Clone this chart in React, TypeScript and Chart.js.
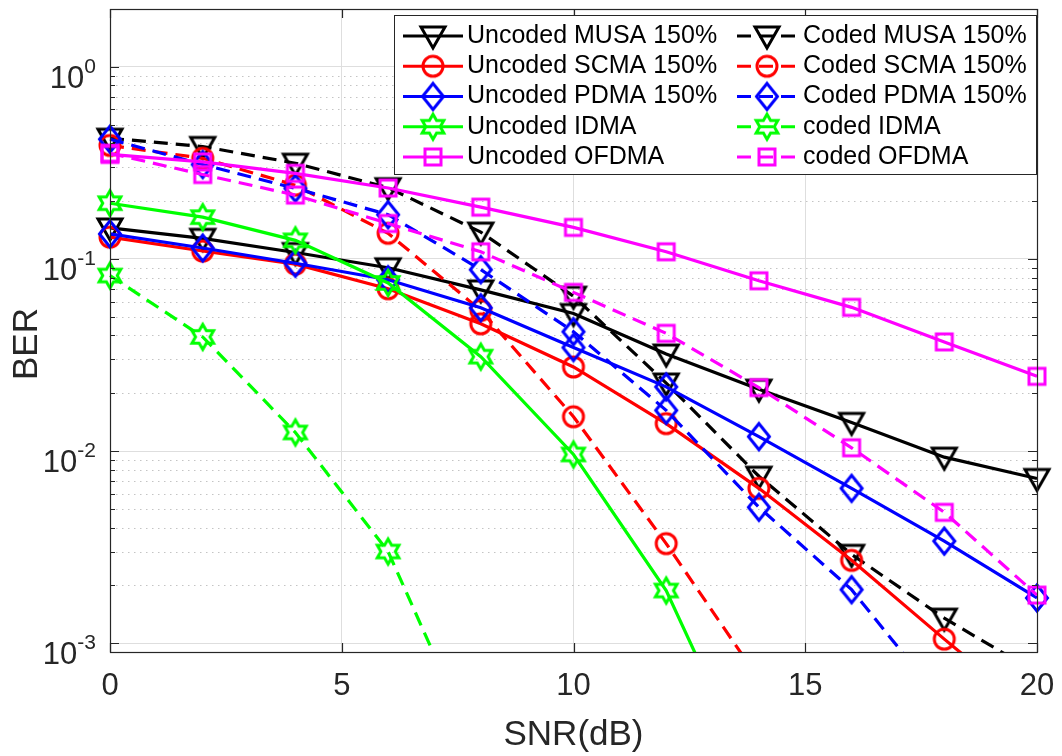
import React, { useEffect, useRef } from 'react';
import { Chart, registerables } from 'chart.js';

Chart.register(...registerables);

// ---------- data ----------
const snr = [0, 2, 4, 6, 8, 10, 12, 14, 16, 18, 20];
const xTicks = [0, 5, 10, 15, 20];
const yDecades = [-3, -2, -1, 0];

const uncodedMUSA = [0.145, 0.128, 0.108, 0.09, 0.069, 0.052, 0.032, 0.021, 0.0141, 0.0093, 0.0072];
const codedMUSA = [0.425, 0.385, 0.315, 0.235, 0.138, 0.064, 0.0226, 0.0074, 0.0029, 0.00135, 0.0007];
const uncodedSCMA = [0.13, 0.11, 0.094, 0.07, 0.046, 0.0274, 0.0139, 0.0064, 0.0027, 0.00105, 0.00042];
const codedSCMA = [0.39, 0.334, 0.242, 0.136, 0.054, 0.0151, 0.0033, 0.00065];
const uncodedPDMA = [0.135, 0.114, 0.095, 0.078, 0.0557, 0.0346, 0.0216, 0.0119, 0.0064, 0.0034, 0.00172];
const codedPDMA = [0.42, 0.31, 0.233, 0.17, 0.088, 0.0418, 0.0163, 0.0051, 0.0019, 0.00048];
const uncodedIDMA = [0.195, 0.165, 0.125, 0.075, 0.031, 0.0096, 0.00188, 0.00017];
const codedIDMA = [0.082, 0.0393, 0.0125, 0.003, 0.00025];
const uncodedOFDMA = [0.35, 0.32, 0.279, 0.234, 0.186, 0.146, 0.109, 0.077, 0.056, 0.037, 0.0245];
const codedOFDMA = [0.355, 0.275, 0.215, 0.153, 0.109, 0.067, 0.041, 0.0214, 0.0104, 0.0048, 0.00178];

const labels = [
  'Uncoded MUSA 150%', 'Coded MUSA 150%',
  'Uncoded SCMA 150%', 'Coded SCMA 150%',
  'Uncoded PDMA 150%', 'Coded PDMA 150%',
  'Uncoded IDMA', 'coded IDMA',
  'Uncoded OFDMA', 'coded OFDMA',
];
const seriesData = [
  uncodedMUSA, codedMUSA, uncodedSCMA, codedSCMA, uncodedPDMA,
  codedPDMA, uncodedIDMA, codedIDMA, uncodedOFDMA, codedOFDMA,
];
const colors = ['#000000', '#000000', '#ff0000', '#ff0000', '#0000ff', '#0000ff', '#00ff00', '#00ff00', '#ff00ff', '#ff00ff'];
const markers = ['tri', 'tri', 'circle', 'circle', 'diamond', 'diamond', 'hexagram', 'hexagram', 'square', 'square'];
const dashed = [false, true, false, true, false, true, false, true, false, true];

const FONT = '"Liberation Sans", Arial, Helvetica, sans-serif';
const AXIS_COLOR = '#262626';
const DASH = [14, 8];

function makeMarker(shape: string, color: string): HTMLCanvasElement {
  const c = document.createElement('canvas');
  c.width = 38;
  c.height = 38;
  const ctx = c.getContext('2d')!;
  const m = 19;
  ctx.strokeStyle = color;
  ctx.lineWidth = 3;
  ctx.lineJoin = 'miter';
  ctx.beginPath();
  if (shape === 'tri') {
    ctx.moveTo(m - 12, m - 9);
    ctx.lineTo(m + 12, m - 9);
    ctx.lineTo(m, m + 12);
    ctx.closePath();
  } else if (shape === 'circle') {
    ctx.arc(m, m, 10, 0, Math.PI * 2);
  } else if (shape === 'diamond') {
    ctx.moveTo(m, m - 13);
    ctx.lineTo(m + 10.5, m);
    ctx.lineTo(m, m + 13);
    ctx.lineTo(m - 10.5, m);
    ctx.closePath();
  } else if (shape === 'square') {
    ctx.rect(m - 8, m - 8, 16, 16);
  } else if (shape === 'hexagram') {
    const R = 12.5;
    const r = R / Math.sqrt(3);
    for (let i = 0; i < 12; i++) {
      const ang = -Math.PI / 2 + (i * Math.PI) / 6;
      const rad = i % 2 === 0 ? R : r;
      const px = m + rad * Math.cos(ang);
      const py = m + rad * Math.sin(ang);
      if (i === 0) ctx.moveTo(px, py);
      else ctx.lineTo(px, py);
    }
    ctx.closePath();
  }
  ctx.stroke();
  return c;
}

export default function App() {
  const ref = useRef<HTMLCanvasElement>(null);

  useEffect(() => {
    const markerImgs = markers.map((m, i) => makeMarker(m, colors[i]));

    const datasets = seriesData.map((arr, i) => ({
      label: labels[i],
      data: arr.map((v, j) => ({ x: snr[j], y: v })),
      borderColor: colors[i],
      backgroundColor: colors[i],
      borderWidth: 3.2,
      borderDash: dashed[i] ? DASH : [],
      pointStyle: markerImgs[i],
      pointRadius: 12,
      pointHoverRadius: 12,
      tension: 0,
      fill: false,
      clip: { left: 30, right: 30, top: 30, bottom: 0 },
      order: 10 - i,
    }));

    const matlabPlugin = {
      id: 'matlabAxes',
      beforeDatasetsDraw(chart: any) {
        const { ctx, chartArea: a, scales } = chart;
        const y = scales.y;
        ctx.save();
        ctx.strokeStyle = '#c4c4c4';
        ctx.lineWidth = 1;
        ctx.setLineDash([1.5, 4.5]);
        for (let d = -4; d <= 0; d++) {
          for (let m = 2; m <= 9; m++) {
            const v = m * Math.pow(10, d);
            if (v <= y.min || v >= y.max) continue;
            const py = Math.round(y.getPixelForValue(v)) + 0.5;
            ctx.beginPath();
            ctx.moveTo(a.left, py);
            ctx.lineTo(a.right, py);
            ctx.stroke();
          }
        }
        ctx.restore();
      },
      afterDraw(chart: any) {
        const { ctx, chartArea: a, scales } = chart;
        const x = scales.x;
        const y = scales.y;
        ctx.save();
        // axes box
        ctx.strokeStyle = AXIS_COLOR;
        ctx.lineWidth = 1.2;
        ctx.setLineDash([]);
        ctx.strokeRect(a.left + 0.5, a.top + 0.5, a.right - a.left, a.bottom - a.top);
        // inward ticks
        ctx.beginPath();
        for (const t of xTicks) {
          const px = Math.round(x.getPixelForValue(t)) + 0.5;
          ctx.moveTo(px, a.bottom);
          ctx.lineTo(px, a.bottom - 9);
          ctx.moveTo(px, a.top);
          ctx.lineTo(px, a.top + 9);
        }
        for (let d = -4; d <= 0; d++) {
          for (let m = 1; m <= 9; m++) {
            const v = m * Math.pow(10, d);
            if (v < y.min || v > y.max) continue;
            const py = Math.round(y.getPixelForValue(v)) + 0.5;
            const len = m === 1 ? 9 : 5;
            ctx.moveTo(a.left, py);
            ctx.lineTo(a.left + len, py);
            ctx.moveTo(a.right, py);
            ctx.lineTo(a.right - len, py);
          }
        }
        ctx.stroke();

        // y tick labels 10^k
        ctx.fillStyle = AXIS_COLOR;
        ctx.textAlign = 'right';
        ctx.textBaseline = 'alphabetic';
        for (const d of yDecades) {
          const py = y.getPixelForValue(Math.pow(10, d));
          const exp = String(d);
          ctx.font = `21px ${FONT}`;
          const ew = ctx.measureText(exp).width;
          ctx.fillText(exp, 96, py + 6);
          ctx.font = `31px ${FONT}`;
          ctx.fillText('10', 96 - ew, py + 21);
        }

        // y axis title
        ctx.save();
        ctx.translate(37, 344);
        ctx.rotate(-Math.PI / 2);
        ctx.textAlign = 'center';
        ctx.textBaseline = 'alphabetic';
        ctx.font = `35px ${FONT}`;
        ctx.fillStyle = AXIS_COLOR;
        ctx.fillText('BER', 0, 0);
        ctx.restore();

        // legend
        const lx = 394, ly = 15, lw = 642, lh = 159;
        ctx.fillStyle = '#ffffff';
        ctx.fillRect(lx, ly, lw, lh);
        ctx.strokeStyle = AXIS_COLOR;
        ctx.lineWidth = 1;
        ctx.strokeRect(lx + 0.5, ly + 0.5, lw, lh);
        const cols = [
          { x1: 403, x2: 463, tx: 467 },
          { x1: 737, x2: 797, tx: 803 },
        ];
        for (let i = 0; i < labels.length; i++) {
          const row = Math.floor(i / 2);
          const col = cols[i % 2];
          const cy = 36 + row * 30.25;
          ctx.beginPath();
          ctx.setLineDash(dashed[i] ? DASH : []);
          ctx.strokeStyle = colors[i];
          ctx.lineWidth = 3.2;
          ctx.moveTo(col.x1, cy);
          ctx.lineTo(col.x2, cy);
          ctx.stroke();
          ctx.setLineDash([]);
          const img = markerImgs[i];
          ctx.drawImage(img, (col.x1 + col.x2) / 2 - img.width / 2, cy - img.height / 2);
          ctx.fillStyle = '#000000';
          ctx.font = `25px ${FONT}`;
          ctx.textAlign = 'left';
          ctx.textBaseline = 'middle';
          ctx.fillText(labels[i], col.tx, cy);
        }
        ctx.restore();
      },
    };

    const chart = new Chart(ref.current!, {
      type: 'line',
      data: { datasets: datasets as any },
      options: {
        responsive: true,
        maintainAspectRatio: false,
        animation: false,
        events: [],
        layout: { autoPadding: false, padding: { left: 0, top: 9, right: 25, bottom: 0 } },
        plugins: { legend: { display: false }, tooltip: { enabled: false } },
        scales: {
          x: {
            type: 'linear',
            min: 0,
            max: 20,
            afterBuildTicks: (s: any) => {
              s.ticks = xTicks.map((v) => ({ value: v }));
            },
            afterFit: (s: any) => {
              s.height = 104;
              s.paddingLeft = 0;
              s.paddingRight = 0;
            },
            ticks: {
              font: { family: FONT, size: 31 },
              color: AXIS_COLOR,
              padding: 16,
              maxRotation: 0,
              autoSkip: false,
            },
            grid: { color: '#dedede', lineWidth: 1, drawTicks: false },
            border: { display: false },
            title: {
              display: true,
              text: 'SNR(dB)',
              font: { family: FONT, size: 35 },
              color: AXIS_COLOR,
              padding: 0,
            },
          },
          y: {
            type: 'logarithmic',
            min: 0.0009,
            max: 2,
            afterBuildTicks: (s: any) => {
              s.ticks = yDecades.map((d) => ({ value: Math.pow(10, d) }));
            },
            afterFit: (s: any) => {
              s.width = 110;
              s.paddingTop = 0;
              s.paddingBottom = 0;
            },
            ticks: { display: false },
            grid: { color: '#dedede', lineWidth: 1, drawTicks: false },
            border: { display: false },
          },
        },
      } as any,
      plugins: [matlabPlugin],
    });
    return () => chart.destroy();
  }, []);

  return (
    <div style={{ position: 'fixed', left: 0, top: 0, width: 1062, height: 756, background: '#ffffff' }}>
      <canvas ref={ref} />
    </div>
  );
}
